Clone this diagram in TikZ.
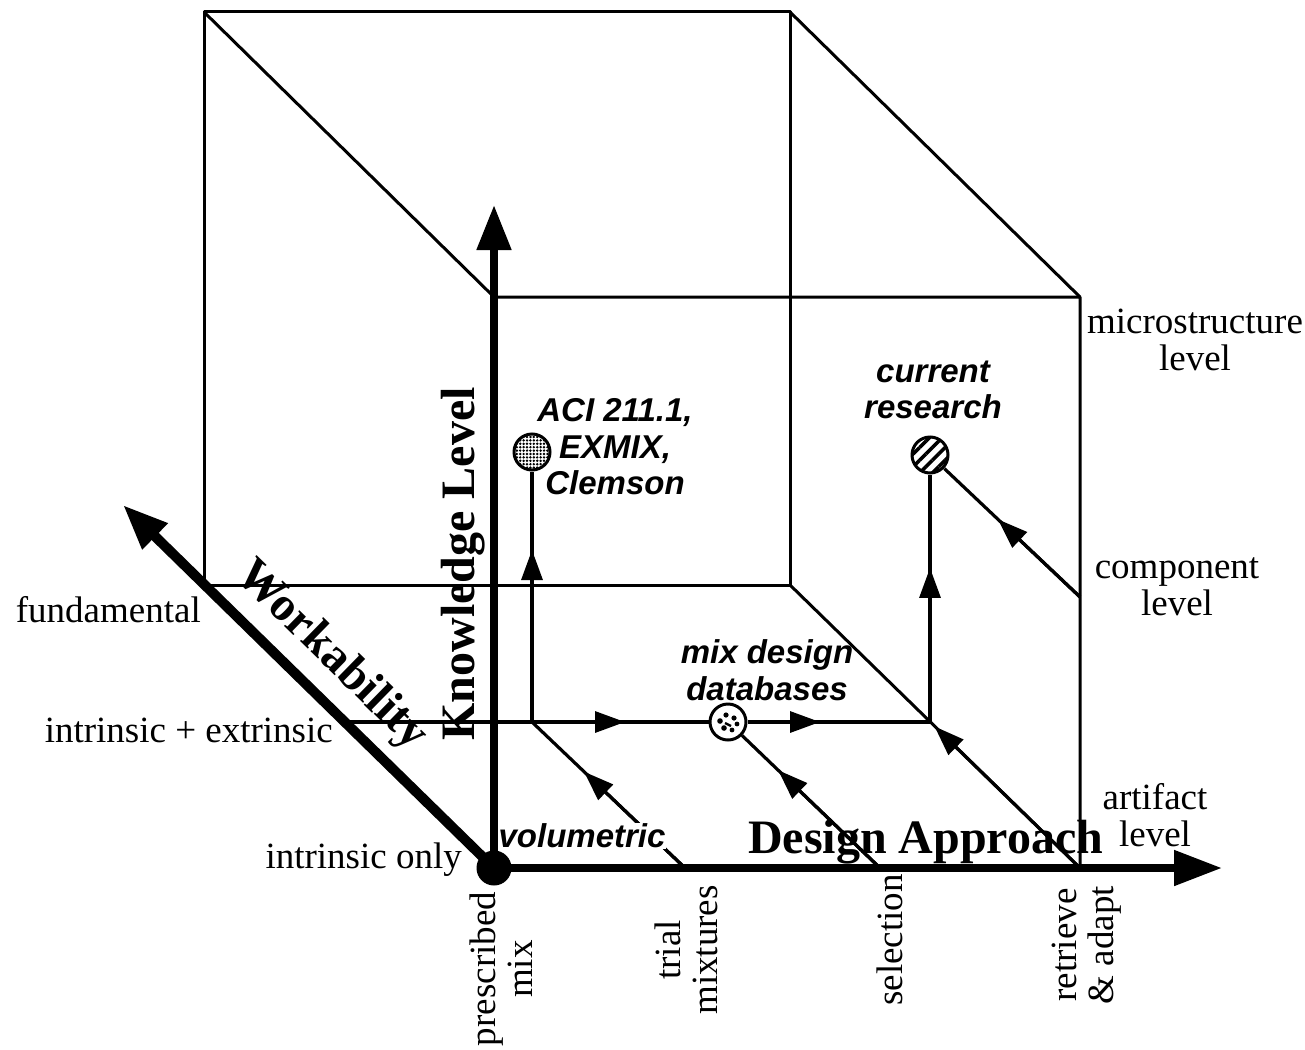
\documentclass[tikz,border=0pt]{standalone}
\usepackage{fontspec}
\setmainfont{Liberation Serif}
\setsansfont{Liberation Sans}
\usetikzlibrary{arrows.meta,calc,patterns.meta}

\begin{document}
\begin{tikzpicture}[x=1pt,y=-1pt,
  edge/.style={line width=3pt, line join=round},
  flow/.style={line width=3.2pt},
  flowtip/.style={flow, -{Triangle[length=30pt,width=21pt]}},
  axisline/.style={line width=8pt},
  scalelbl/.style={font=\fontsize{37}{37}\selectfont, inner sep=0pt, align=center},
  notelbl/.style={font=\sffamily\bfseries\itshape\fontsize{33}{36.5}\selectfont, inner sep=0pt, align=center},
  axislbl/.style={font=\bfseries\fontsize{48}{48}\selectfont, inner sep=0pt},
  hub/.style={circle, draw, line width=3pt, minimum size=36pt, inner sep=0pt},
]
\useasboundingbox (0,0) rectangle (1305,1049);

% cube corners (front face shares the origin corner)
\coordinate (O)   at (494,868);
\coordinate (FTL) at (494,297);
\coordinate (FTR) at (1080,297);
\coordinate (FBR) at (1080,868);
\coordinate (BTL) at (204,12);
\coordinate (BTR) at (790,12);
\coordinate (BBL) at (204,585);
\coordinate (BBR) at (790,585);

% axis tips
\coordinate (Ktip) at (494,205);
\coordinate (Dtip) at (1222,868);
\coordinate (Wtip) at (123,505);

% "intrinsic + extrinsic" plane
\coordinate (MW) at (345,722);
\coordinate (MT) at (532,722);
\coordinate (MR) at (930,722);
\coordinate (h1) at (625,722);
\coordinate (h2) at (820,722);

% design approach stations and component level
\coordinate (T0)   at (685,868);
\coordinate (S0)   at (880,868);
\coordinate (Comp) at (1080,597);

% cube edges
\draw[edge] (BTL) -- (BTR) -- (BBR) -- (BBL) -- cycle;
\draw[edge] (BTL) -- (FTL) -- (FTR) -- (FBR);
\draw[edge] (BTR) -- (FTR);
\draw[edge] (BBR) -- (FBR);

% system markers
\node[hub, pattern={Dots[distance=3.4pt,radius=1.35pt]}] (aci) at (532,452) {};
\node[hub, pattern={Lines[angle=45,distance=9pt,line width=3.6pt]}] (cur) at (930,455) {};
\node[hub, fill=white] (mix) at (728,722) {};
\fill ($(mix.center)+(-8,-1)$) circle[radius=2.8pt];
\fill ($(mix.center)+(-2,-7)$) circle[radius=2.6pt];
\fill ($(mix.center)+(6,-4)$) circle[radius=2.6pt];
\fill ($(mix.center)+(-4,6)$) circle[radius=2.8pt];
\fill ($(mix.center)+(4,8)$) circle[radius=2.4pt];
\fill ($(mix.center)+(9,2)$) circle[radius=2.4pt];
\draw[line width=2.4pt] ($(mix.center)+(-3,1)$) -- ($(mix.center)+(3,4)$);

% plane line with flow arrows
\draw[flow] (MW) -- (mix);
\draw[flow] (mix) -- (MR);
\draw[flowtip] (MT) -- (h1);
\draw[flowtip] (mix) -- (h2);

% flows from the design approach axis
\draw[flow] (T0) -- (MT);
\draw[flowtip] (T0) -- ($(T0)!0.66!(MT)$);
\draw[flow] (S0) -- (mix);
\draw[flowtip] (S0) -- ($(S0)!0.67!(mix.center)$);
\draw[flowtip] (FBR) -- ($(FBR)!0.97!(MR)$);

% flows up to the knowledge levels
\draw[flow] (MT) -- (aci);
\draw[flowtip] (MT) -- ($(MT)!0.637!(aci.center)$);
\draw[flow] (MR) -- (cur);
\draw[flowtip] (MR) -- ($(MR)!0.577!(cur.center)$);
\draw[flow] (Comp) -- (cur);
\draw[flowtip] (Comp) -- ($(Comp)!0.547!(cur.center)$);

% system labels
\node[notelbl] (acilbl) at (615,447) {ACI 211.1,\\EXMIX,\\Clemson};
\node[notelbl] (curlbl) at (933,390) {current\\research};
\node[notelbl] (mixlbl) at (767,670) {mix design\\databases};
\node[notelbl, fill=white, inner sep=1pt] (vol) at (582,836) {volumetric};

% workability levels
\node[scalelbl, anchor=east] (fund) at (201,610) {fundamental};
\node[scalelbl, anchor=east] (inex) at (333,730) {intrinsic + extrinsic};
\node[scalelbl, anchor=east] (inonly) at (462,860) {intrinsic only};

% knowledge levels
\node[scalelbl] (micro) at (1195,340) {microstructure\\level};
\node[scalelbl] (comp) at (1177,587) {component\\level};
\node[scalelbl] (art) at (1155,815) {artifact\\level};

% design approaches
\node[scalelbl, rotate=90] (presc) at (501,969) {prescribed\\mix};
\node[scalelbl, rotate=90] (trial) at (686,950) {trial\\mixtures};
\node[scalelbl, rotate=90] (sel) at (890,940) {selection};
\node[scalelbl, rotate=90] (retr) at (1087,945) {retrieve\\\& adapt};

% axes
\draw[line width=10pt, -{Triangle[length=45pt,width=34pt]}] (O) -- (Wtip);
\draw[axisline, -{Triangle[length=45pt,width=33pt]}] (O) -- (Ktip);
\draw[axisline, -{Triangle[length=48pt,width=34pt]}] (O) -- (Dtip);
\fill (O) circle[radius=17.5pt];

% axis titles
\node[axislbl, rotate=90, anchor=base] (klbl) at (474,564) {Knowledge Level};
\node[axislbl, anchor=base west] (dlbl) at (748,853) {Design Approach};
\node[axislbl, rotate=-44.4, anchor=base] (wlbl) at (323,664) {Workability};
\end{tikzpicture}
\end{document}
